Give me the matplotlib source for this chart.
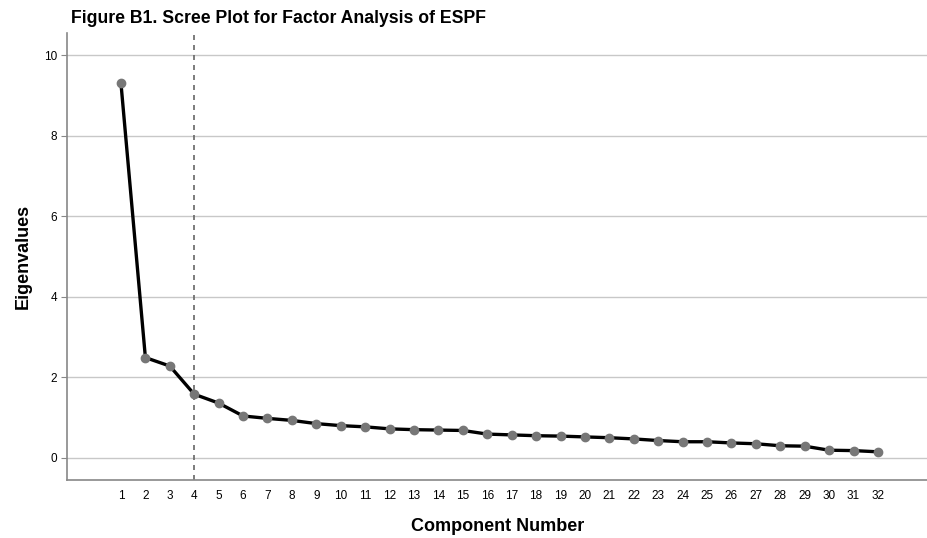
"""
Scree plot for factor analysis of ESPF (Figure B1).
"""

import matplotlib.pyplot as plt

# eigenvalues
components = list(range(1, 33))
eigenvalues = [9.30, 2.49, 2.28, 1.58, 1.36, 1.04, 0.98, 0.93, 0.85, 0.80,
               0.77, 0.72, 0.70, 0.69, 0.68, 0.59, 0.57, 0.55, 0.54, 0.52,
               0.50, 0.47, 0.43, 0.40, 0.40, 0.37, 0.35, 0.30, 0.29, 0.19,
               0.18, 0.15]
cutoff_component = 4
y_ticks = [0, 2, 4, 6, 8, 10]

plt.rcParams['font.family'] = ['Liberation Sans', 'DejaVu Sans']

fig = plt.figure(figsize=(9.28, 5.38), dpi=100)
ax = fig.add_axes([0.0722, 0.1078, 0.9278, 0.8309])

ax.yaxis.grid(True, color='#c8c8c8', linewidth=1.0)
ax.set_axisbelow(True)

ax.axvline(cutoff_component, color='#666666', linestyle=(0, (3, 3)),
           linewidth=1.2, zorder=2)

ax.plot(components, eigenvalues, color='black', linewidth=2.4, zorder=3)
ax.plot(components, eigenvalues, linestyle='none', marker='o', markersize=6,
        color='#777777', zorder=4)

ax.set_xlim(-1.21, 34.05)
ax.set_ylim(-0.55, 10.55)
ax.set_xticks(components)
ax.set_yticks(y_ticks)
ax.tick_params(axis='x', length=0, labelsize=8.5, pad=7)
ax.tick_params(axis='y', length=4, color='#888888', labelsize=8.5, pad=3)

for side in ['top', 'right']:
    ax.spines[side].set_visible(False)
for side in ['left', 'bottom']:
    ax.spines[side].set_color('#888888')
    ax.spines[side].set_linewidth(1.2)

ax.set_xlabel('Component Number', fontsize=13, fontweight='bold', labelpad=12)
ax.set_ylabel('Eigenvalues', fontsize=13, fontweight='bold', labelpad=9)

fig.text(0.076, 0.965, 'Figure B1. Scree Plot for Factor Analysis of ESPF',
         fontsize=12.7, fontweight='bold', va='center', ha='left')

fig.savefig('out.png', dpi=100)
